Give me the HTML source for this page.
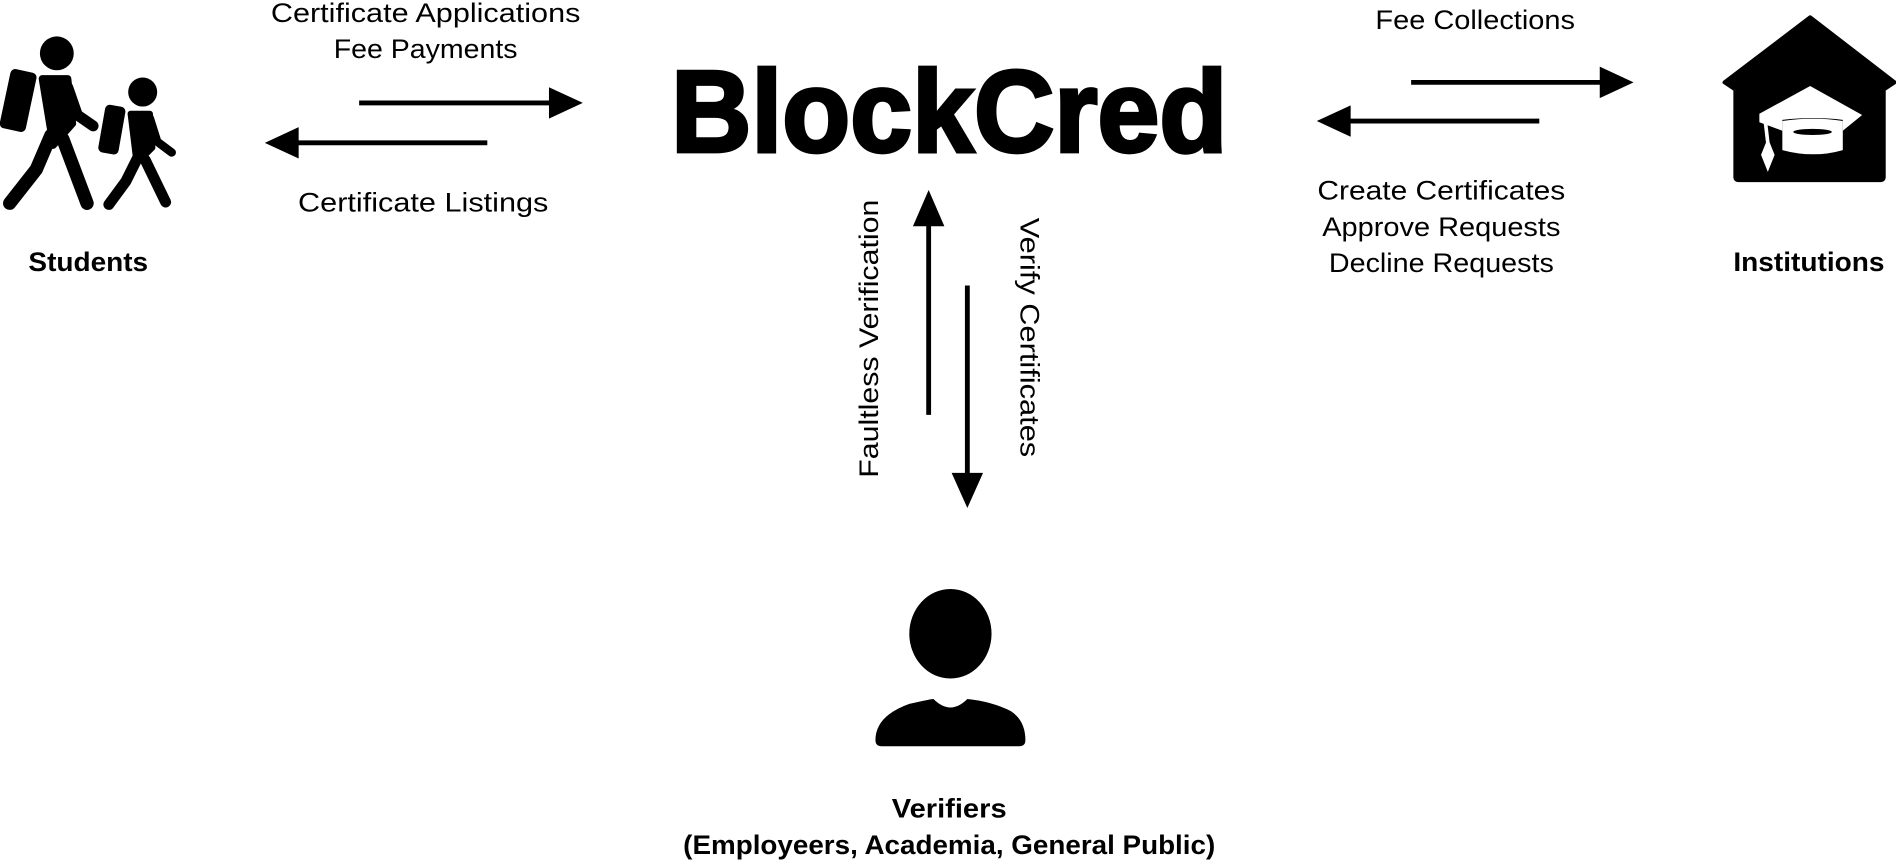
<!DOCTYPE html>
<html><head><style>
html,body{margin:0;padding:0;background:#fff;width:1896px;height:860px;overflow:hidden}
svg{display:block}
text{font-family:"Liberation Sans",Arial,sans-serif;fill:#000}
</style></head><body>
<svg width="1896" height="860" viewBox="0 0 1568 711" xmlns="http://www.w3.org/2000/svg">
<!-- Students icon -->
<g fill="#000" stroke="#000" stroke-linecap="round" stroke-linejoin="round">
  <circle cx="47" cy="44" r="14" stroke="none"/>
  <rect x="4" y="58" width="22" height="50" rx="4" transform="rotate(12 15 83)" stroke="none"/>
  <path d="M35 65 L56 65 L60 102 L44 120 Z" stroke-width="6"/>
  <path d="M56 72 L64 95 L77 104" fill="none" stroke-width="9"/>
  <path d="M42 112 L30 140 L8 168" fill="none" stroke-width="11"/>
  <path d="M52 115 L72 168" fill="none" stroke-width="11"/>
  <circle cx="118" cy="76" r="12" stroke="none"/>
  <rect x="84" y="87" width="17" height="40" rx="4" transform="rotate(10 92 107)" stroke="none"/>
  <path d="M108 94 L124 94 L126 122 L113 135 Z" stroke-width="5"/>
  <path d="M124 98 L130 117 L142 126" fill="none" stroke-width="7"/>
  <path d="M114 130 L104 150 L90 169" fill="none" stroke-width="9"/>
  <path d="M120 132 L137 167" fill="none" stroke-width="9"/>
</g>
<!-- Institutions icon -->
<g>
  <path d="M1497 14 L1567 68 L1558 74 L1558 146 Q1558 149 1555 149 L1438 149 Q1435 149 1435 146 L1435 74 L1426 68 Z" fill="#000" stroke="#000" stroke-width="3" stroke-linejoin="round"/>
  <path d="M1497 71 L1540 95 L1524 108 L1524 99 Q1500 96 1474 99 L1474 108 L1455 101 L1455 94 Z" fill="#fff"/>
  <path d="M1474 100 Q1500 96 1524 100 L1524 124 Q1500 131 1474 124 Z" fill="#fff"/>
  <ellipse cx="1499" cy="109" rx="16" ry="2.5" fill="#000"/>
  <path d="M1460 101 L1462 118 L1458 128 L1462 138 L1466 128 L1462 118" fill="#fff" stroke="#fff" stroke-width="3"/>
</g>
<!-- Verifier icon -->
<ellipse cx="786" cy="524" rx="34" ry="37" fill="#000"/>
<path d="M724 612 Q724 592 752 582 Q770 578 772 578 Q786 592 800 578 Q820 580 836 588 Q848 596 848 612 Q848 617 843 617 L729 617 Q724 617 724 612 Z" fill="#000"/>
<!-- Arrows -->
<g stroke="#000" stroke-width="4">
  <line x1="297" y1="85" x2="458" y2="85"/>
  <line x1="240" y1="118" x2="403" y2="118"/>
  <line x1="1167" y1="68" x2="1326" y2="68"/>
  <line x1="1110" y1="100" x2="1273" y2="100"/>
  <line x1="768" y1="180" x2="768" y2="343"/>
  <line x1="800" y1="236" x2="800" y2="398"/>
</g>
<g fill="#000">
  <polygon points="482,85 454,72 454,98"/>
  <polygon points="219,118 247,105 247,131"/>
  <polygon points="1351,68 1323,55 1323,81"/>
  <polygon points="1089,100 1117,87 1117,113"/>
  <polygon points="768,157 755,187 781,187"/>
  <polygon points="800,420 787,391 813,391"/>
</g>
<!-- Text -->
<g font-size="22" text-anchor="middle" lengthAdjust="spacingAndGlyphs">
  <text x="352" y="18" textLength="256" lengthAdjust="spacingAndGlyphs">Certificate Applications</text>
  <text x="352" y="48" textLength="152" lengthAdjust="spacingAndGlyphs">Fee Payments</text>
  <text x="350" y="175" textLength="207" lengthAdjust="spacingAndGlyphs">Certificate Listings</text>
  <text x="1220" y="24" textLength="165" lengthAdjust="spacingAndGlyphs">Fee Collections</text>
  <text x="1192" y="165" textLength="205" lengthAdjust="spacingAndGlyphs">Create Certificates</text>
  <text x="1192" y="195" textLength="197" lengthAdjust="spacingAndGlyphs">Approve Requests</text>
  <text x="1192" y="225" textLength="186" lengthAdjust="spacingAndGlyphs">Decline Requests</text>
  <text transform="translate(726 280) rotate(-90)" textLength="230" lengthAdjust="spacingAndGlyphs">Faultless Verification</text>
  <text transform="translate(844 279) rotate(90)" textLength="198" lengthAdjust="spacingAndGlyphs">Verify Certificates</text>
</g>
<g font-size="22" font-weight="bold" text-anchor="middle">
  <text x="73" y="224" textLength="99" lengthAdjust="spacingAndGlyphs">Students</text>
  <text x="1496" y="224" textLength="125" lengthAdjust="spacingAndGlyphs">Institutions</text>
  <text x="785" y="676" textLength="95" lengthAdjust="spacingAndGlyphs">Verifiers</text>
  <text x="785" y="706" textLength="440" lengthAdjust="spacingAndGlyphs">(Employeers, Academia, General Public)</text>
</g>
<text x="555" y="125" font-size="96" font-weight="bold" textLength="460" lengthAdjust="spacingAndGlyphs" stroke="#000" stroke-width="3">BlockCred</text>
</svg>
</body></html>
